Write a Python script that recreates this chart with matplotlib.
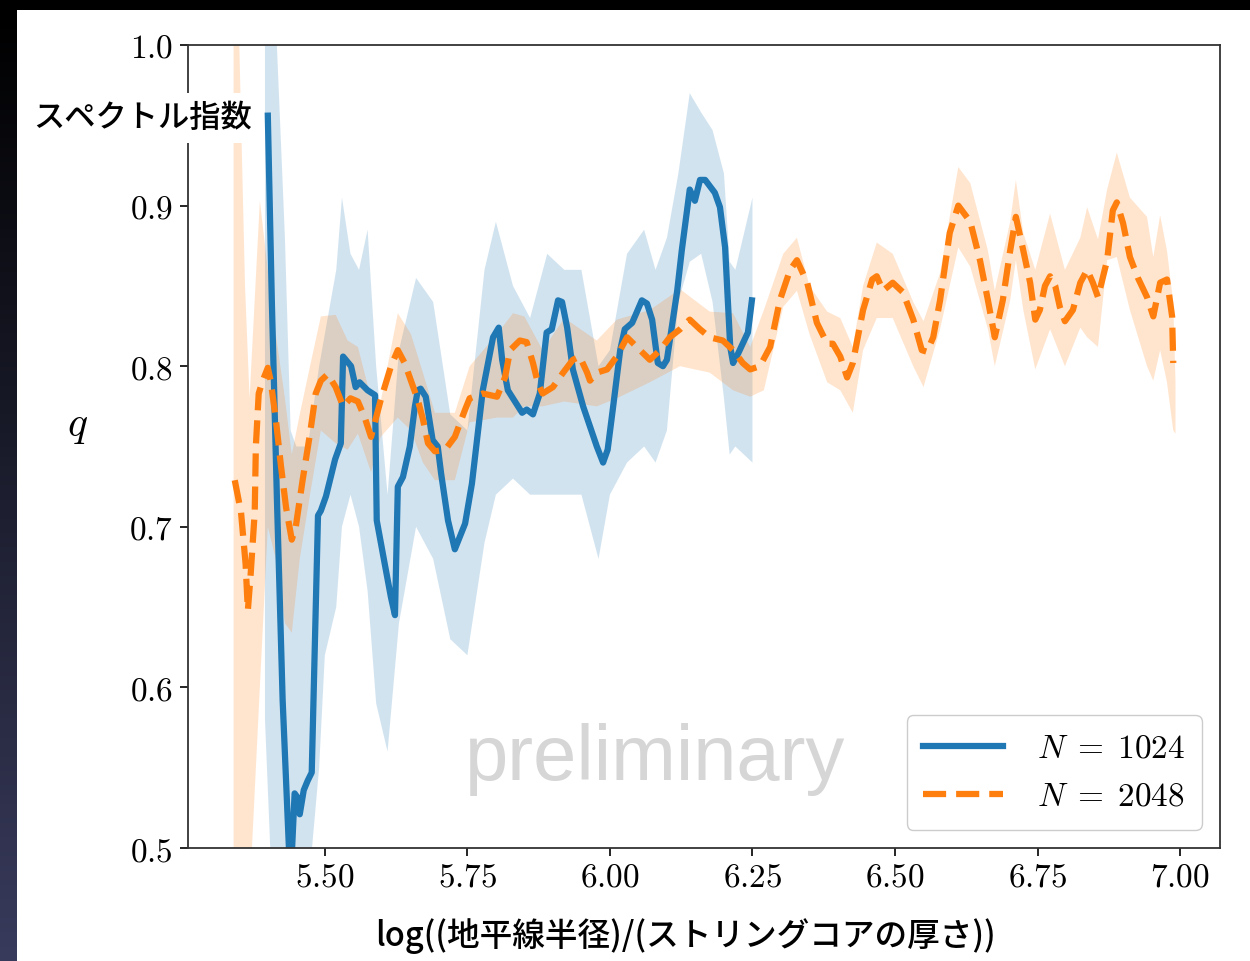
import numpy as np
import matplotlib
matplotlib.use("Agg")
import matplotlib.pyplot as plt
from matplotlib.patches import Rectangle

plt.rcParams['mathtext.fontset'] = 'cm'
plt.rcParams['font.family'] = ['DejaVu Sans']

# N = 1024 (line)
x_1024 = [5.400, 5.407, 5.416, 5.426, 5.437, 5.440, 5.447, 5.451, 5.456, 5.463, 5.470, 5.477,
          5.488, 5.493, 5.502, 5.518, 5.528, 5.532, 5.546, 5.554, 5.561, 5.575, 5.588, 5.591,
          5.605, 5.616, 5.623, 5.628, 5.637, 5.649, 5.658, 5.663, 5.668, 5.677, 5.689, 5.698,
          5.704, 5.716, 5.728, 5.746, 5.758, 5.777, 5.795, 5.805, 5.811, 5.821, 5.846, 5.854,
          5.865, 5.877, 5.889, 5.898, 5.909, 5.916, 5.925, 5.935, 5.953, 5.977, 5.988, 5.996,
          6.005, 6.018, 6.026, 6.039, 6.056, 6.065, 6.074, 6.084, 6.093, 6.100, 6.105, 6.118,
          6.126, 6.140, 6.149, 6.158, 6.167, 6.184, 6.193, 6.202, 6.211, 6.216, 6.225, 6.242,
          6.249]
q_1024 = [0.956, 0.841, 0.717, 0.592, 0.500, 0.480, 0.534, 0.532, 0.521, 0.536, 0.542, 0.547,
          0.707, 0.710, 0.719, 0.742, 0.752, 0.806, 0.800, 0.787, 0.790, 0.785, 0.782, 0.704,
          0.677, 0.656, 0.645, 0.725, 0.731, 0.750, 0.775, 0.785, 0.786, 0.781, 0.754, 0.750,
          0.733, 0.704, 0.686, 0.702, 0.727, 0.785, 0.818, 0.824, 0.804, 0.785, 0.771, 0.773,
          0.770, 0.783, 0.821, 0.823, 0.841, 0.840, 0.824, 0.798, 0.775, 0.750, 0.740, 0.748,
          0.773, 0.810, 0.823, 0.827, 0.841, 0.839, 0.829, 0.802, 0.800, 0.804, 0.816, 0.847,
          0.872, 0.910, 0.903, 0.916, 0.916, 0.908, 0.899, 0.874, 0.812, 0.802, 0.808, 0.821,
          0.841]

# N = 1024 (band)
xb_1024 = [5.395, 5.41, 5.43, 5.44, 5.45, 5.47, 5.49, 5.50, 5.52, 5.53, 5.545, 5.56, 5.575,
           5.59, 5.61, 5.63, 5.66, 5.69, 5.72, 5.75, 5.78, 5.80, 5.83, 5.86, 5.89, 5.92,
           5.95, 5.98, 6.00, 6.03, 6.06, 6.08, 6.10, 6.12, 6.14, 6.16, 6.18, 6.20, 6.21,
           6.22, 6.25]
hi_1024 = [1.05, 1.05, 0.88, 0.76, 0.75, 0.75, 0.80, 0.82, 0.86, 0.905, 0.87, 0.86, 0.885,
           0.80, 0.72, 0.81, 0.855, 0.84, 0.77, 0.76, 0.86, 0.89, 0.85, 0.83, 0.87, 0.86,
           0.86, 0.80, 0.81, 0.87, 0.885, 0.86, 0.88, 0.92, 0.97, 0.958, 0.947, 0.92, 0.865,
           0.86, 0.905]
lo_1024 = [0.58, 0.45, 0.45, 0.45, 0.45, 0.47, 0.55, 0.62, 0.65, 0.70, 0.72, 0.70, 0.66,
           0.59, 0.56, 0.64, 0.70, 0.68, 0.63, 0.62, 0.69, 0.72, 0.73, 0.72, 0.72, 0.72,
           0.72, 0.68, 0.72, 0.74, 0.75, 0.74, 0.76, 0.84, 0.865, 0.87, 0.84, 0.78, 0.745,
           0.75, 0.74]

# N = 2048 (line)
x_2048 = [5.342, 5.353, 5.361, 5.365, 5.370, 5.377, 5.379, 5.384, 5.391, 5.400, 5.405, 5.414,
          5.423, 5.432, 5.442, 5.449, 5.461, 5.474, 5.484, 5.493, 5.505, 5.519, 5.532, 5.545,
          5.558, 5.570, 5.581, 5.598, 5.616, 5.628, 5.640, 5.651, 5.663, 5.672, 5.681, 5.693,
          5.711, 5.728, 5.746, 5.754, 5.777, 5.802, 5.816, 5.825, 5.842, 5.854, 5.865, 5.874,
          5.882, 5.900, 5.918, 5.935, 5.947, 5.960, 5.965, 5.977, 5.995, 6.012, 6.030, 6.047,
          6.070, 6.088, 6.105, 6.123, 6.140, 6.158, 6.175, 6.198, 6.216, 6.233, 6.246, 6.263,
          6.281, 6.298, 6.316, 6.328, 6.346, 6.363, 6.381, 6.391, 6.404, 6.416, 6.426, 6.444,
          6.460, 6.468, 6.479, 6.496, 6.514, 6.532, 6.547, 6.556, 6.567, 6.579, 6.596, 6.611,
          6.632, 6.649, 6.663, 6.675, 6.689, 6.702, 6.712, 6.725, 6.737, 6.746, 6.754, 6.763,
          6.772, 6.781, 6.789, 6.798, 6.812, 6.825, 6.837, 6.847, 6.856, 6.872, 6.882, 6.889,
          6.900, 6.912, 6.926, 6.942, 6.953, 6.965, 6.977, 6.986, 6.988]
q_2048 = [0.729, 0.709, 0.677, 0.648, 0.671, 0.709, 0.750, 0.783, 0.791, 0.799, 0.791, 0.767,
          0.738, 0.712, 0.692, 0.700, 0.729, 0.758, 0.783, 0.791, 0.795, 0.787, 0.775, 0.780,
          0.778, 0.768, 0.756, 0.779, 0.800, 0.810, 0.802, 0.791, 0.779, 0.767, 0.752, 0.747,
          0.748, 0.756, 0.773, 0.780, 0.783, 0.781, 0.793, 0.810, 0.816, 0.815, 0.802, 0.789,
          0.783, 0.787, 0.796, 0.804, 0.806, 0.796, 0.791, 0.796, 0.798, 0.806, 0.818, 0.812,
          0.804, 0.810, 0.818, 0.823, 0.829, 0.823, 0.818, 0.816, 0.810, 0.802, 0.798, 0.800,
          0.812, 0.841, 0.860, 0.866, 0.852, 0.827, 0.814, 0.814, 0.806, 0.793, 0.802, 0.835,
          0.854, 0.856, 0.847, 0.852, 0.846, 0.829, 0.810, 0.809, 0.818, 0.841, 0.883, 0.900,
          0.890, 0.866, 0.841, 0.818, 0.841, 0.872, 0.893, 0.872, 0.852, 0.829, 0.835, 0.850,
          0.856, 0.850, 0.837, 0.828, 0.835, 0.852, 0.860, 0.852, 0.843, 0.866, 0.897, 0.902,
          0.889, 0.868, 0.855, 0.843, 0.831, 0.852, 0.854, 0.831, 0.802]

# N = 2048 (band)
xb_2048 = [5.340, 5.350, 5.360, 5.368, 5.386, 5.400, 5.414, 5.430, 5.442, 5.456, 5.474, 5.493,
           5.519, 5.540, 5.558, 5.581, 5.598, 5.628, 5.651, 5.672, 5.693, 5.728, 5.754, 5.802,
           5.830, 5.850, 5.882, 5.920, 5.977, 6.012, 6.070, 6.123, 6.175, 6.216, 6.246, 6.270,
           6.304, 6.328, 6.350, 6.381, 6.404, 6.426, 6.444, 6.468, 6.496, 6.532, 6.550, 6.579,
           6.611, 6.632, 6.663, 6.675, 6.702, 6.712, 6.725, 6.746, 6.772, 6.798, 6.825, 6.837,
           6.856, 6.872, 6.889, 6.912, 6.942, 6.953, 6.965, 6.977, 6.988, 6.992]
hi_2048 = [1.05, 1.00, 0.85, 0.78, 0.903, 0.86, 0.82, 0.78, 0.745, 0.77, 0.80, 0.831,
           0.832, 0.816, 0.812, 0.780, 0.778, 0.833, 0.820, 0.796, 0.771, 0.771, 0.800, 0.820,
           0.833, 0.831, 0.810, 0.830, 0.816, 0.829, 0.835, 0.848, 0.834, 0.833, 0.812, 0.835,
           0.870, 0.880, 0.850, 0.834, 0.830, 0.812, 0.850, 0.877, 0.870, 0.840, 0.828, 0.858,
           0.924, 0.914, 0.872, 0.847, 0.890, 0.916, 0.883, 0.860, 0.895, 0.860, 0.880, 0.899,
           0.879, 0.910, 0.933, 0.905, 0.893, 0.868, 0.894, 0.872, 0.84, 0.79]
lo_2048 = [0.45, 0.45, 0.45, 0.47, 0.60, 0.70, 0.68, 0.64, 0.634, 0.68, 0.72, 0.760,
           0.752, 0.748, 0.758, 0.734, 0.756, 0.768, 0.760, 0.740, 0.729, 0.729, 0.765, 0.768,
           0.768, 0.775, 0.775, 0.778, 0.775, 0.780, 0.790, 0.800, 0.796, 0.785, 0.781, 0.785,
           0.837, 0.847, 0.820, 0.790, 0.785, 0.771, 0.810, 0.830, 0.830, 0.800, 0.787, 0.823,
           0.874, 0.862, 0.823, 0.800, 0.841, 0.866, 0.835, 0.798, 0.823, 0.800, 0.824, 0.818,
           0.812, 0.866, 0.868, 0.835, 0.800, 0.791, 0.810, 0.790, 0.76, 0.758]

xticks = [5.50, 5.75, 6.00, 6.25, 6.50, 6.75, 7.00]
yticks = [0.5, 0.6, 0.7, 0.8, 0.9, 1.0]

blue = '#1f77b4'
orange = '#ff7f0e'
jp = ['Noto Sans CJK JP', 'DejaVu Sans']

fig = plt.figure(figsize=(12.5, 9.61), dpi=100)
fig.patch.set_facecolor('black')
fig.patches.append(Rectangle((17 / 1250, 0), 1, 1 - 10 / 961, transform=fig.transFigure,
                             facecolor='white', edgecolor='none', zorder=-10))
# dark strip on the left edge of the slide
strip = fig.add_axes([0, 0, 17 / 1250, 1 - 10 / 961])
grad = np.linspace(0, 1, 200)[:, None, None] * np.array([0.22, 0.23, 0.36])[None, None, :]
strip.imshow(grad, aspect='auto', origin='upper')
strip.axis('off')

ax = fig.add_axes([188 / 1250, 113 / 961, 1032 / 1250, 803 / 961])
ax.set_facecolor('white')
ax.fill_between(xb_1024, lo_1024, hi_1024, color=blue, alpha=0.2, linewidth=0)
ax.plot(x_1024, q_1024, color=blue, lw=4.5, label=r'$N \;=\; 1024$')
ax.fill_between(xb_2048, lo_2048, hi_2048, color=orange, alpha=0.2, linewidth=0)
ax.plot(x_2048, q_2048, color=orange, lw=4.5, ls='--', label=r'$N \;=\; 2048$')

ax.set_xlim(5.26, 7.07)
ax.set_ylim(0.5, 1.0)
ax.set_xticks(xticks, [f'${t:.2f}$' for t in xticks])
ax.set_yticks(yticks, [f'${t:.1f}$' for t in yticks])
ax.tick_params(labelsize=24, length=6, width=1.2, pad=5)
ax.tick_params(axis='x', pad=3)
for s in ax.spines.values():
    s.set_linewidth(1.3)
    s.set_color('#333333')

ax.set_ylabel('$q$', rotation=0, fontsize=30)
ax.yaxis.set_label_coords(-0.107, 0.50)
ax.set_xlabel('log((地平線半径)/(ストリングコアの厚さ))', fontsize=23.5,
              family=jp, fontweight='medium')
ax.xaxis.set_label_coords(0.482, -0.087)

ax.text(0.4525, 0.085, 'preliminary', transform=ax.transAxes, fontsize=56,
        family='Liberation Sans', color='#d6d6d6', ha='center', va='baseline')

leg = ax.legend(loc='lower right', fontsize=24, handlelength=2.4, borderpad=0.5,
                labelspacing=0.45, handletextpad=1.0, framealpha=1.0,
                borderaxespad=0.55)
leg.get_frame().set_edgecolor('#cccccc')

fig.text(33 / 1250, 1 - 118 / 961, 'スペクトル指数', fontsize=22.5,
         family=jp, fontweight='medium',
         ha='left', va='center', zorder=10,
         bbox=dict(boxstyle='square,pad=0.3', fc='white', ec='none'))

fig.savefig('out.png', dpi=100)
